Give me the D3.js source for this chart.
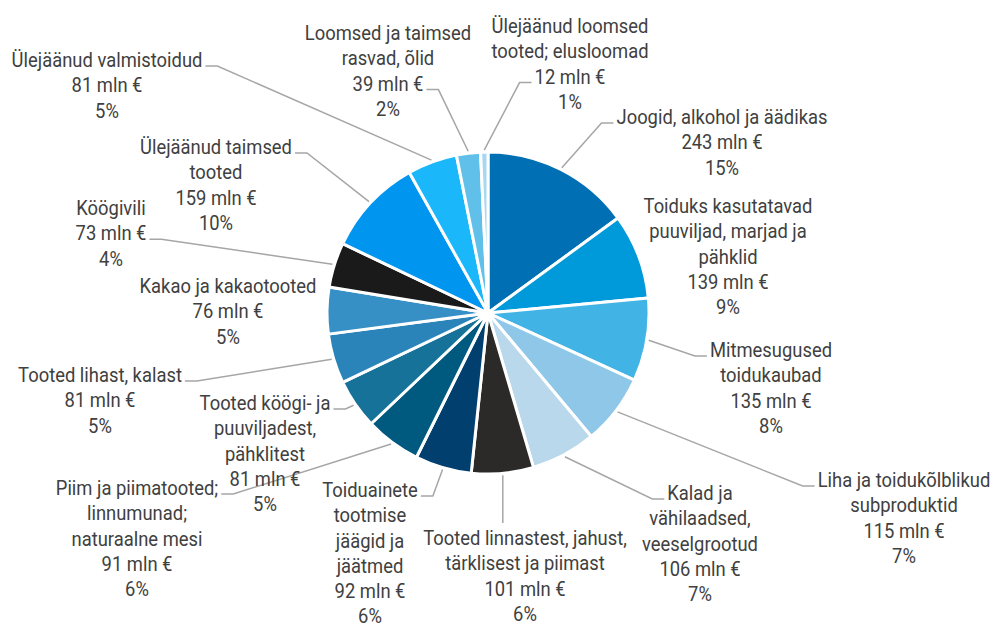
<!DOCTYPE html>
<html lang="et">
<head>
<meta charset="UTF-8">
<title>Toidukaubad</title>
<script src="https://d3js.org/d3.v7.min.js"></script>
<style>
  body { margin: 0; background: #fff; }
  text { font-family: Roboto, "Noto Sans", sans-serif; fill: #404040; }
</style>
</head>
<body>
<script>
// andmed (mln €), kellaosuti suunas alates ülevalt
var categories = [
  "Joogid, alkohol ja äädikas",
  "Toiduks kasutatavad\npuuviljad, marjad ja\npähklid",
  "Mitmesugused\ntoidukaubad",
  "Liha ja toidukõlblikud\nsubproduktid",
  "Kalad ja\nvähilaadsed,\nveeselgrootud",
  "Tooted linnastest, jahust,\ntärklisest ja piimast",
  "Toiduainete\ntootmise\njäägid ja\njäätmed",
  "Piim ja piimatooted;\nlinnumunad;\nnaturaalne mesi",
  "Tooted köögi- ja\npuuviljadest,\npähklitest",
  "Tooted lihast, kalast",
  "Kakao ja kakaotooted",
  "Köögivili",
  "Ülejäänud taimsed\ntooted",
  "Ülejäänud valmistoidud",
  "Loomsed ja taimsed\nrasvad, õlid",
  "Ülejäänud loomsed\ntooted; elusloomad"
];
var values = [243, 139, 135, 115, 106, 101, 92, 91, 81, 81, 76, 73, 159, 81, 39, 12];
var colors = ["#006fb4", "#0099d9", "#41b3e5", "#8ec7e7", "#b9d8eb", "#2b2a29",
              "#003f6e", "#005a80", "#17729a", "#2a84ba", "#3790c5", "#1a1a1a",
              "#0096f0", "#1ab8fa", "#60c0ea", "#a8d8f0"];

// sildi paigutus: keskkoht x, esimese rea y, juhtjoone rida ja pool
var labelLayout = [
  [722, 117, 0, "L"], [728, 206, -1, ""], [771, 350, 0, "L"], [904, 480, 0, "L"],
  [700, 493, 0, "L"], [525, 538, 0, "V"], [370, 490, 0, "R"], [137, 488, 0, "R"],
  [265, 403, 0, "R"], [100, 375, 0, "R"], [228, 286, -1, ""], [111, 208, 1, "R"],
  [216, 147, 0, "R"], [107, 60, 0, "R"], [388, 33, 2, "R"], [570, 26, 2, "L"]
];

var width = 995, height = 626;
var cx = 488, cy = 313, radius = 161;
var lineH = 25.3, sx = 0.92;

var total = d3.sum(values);
var svg = d3.select("body").append("svg")
  .attr("width", width).attr("height", height);

var pie = d3.pie().sort(null).value(function(d) { return d; });
var arcs = pie(values);
var arc = d3.arc().innerRadius(0).outerRadius(radius);

var g = svg.append("g").attr("transform", "translate(" + cx + "," + cy + ")");
g.selectAll("path").data(arcs).enter().append("path")
  .attr("d", arc)
  .attr("fill", function(d, i) { return colors[i]; })
  .attr("stroke", "#fff")
  .attr("stroke-width", 3)
  .attr("stroke-linejoin", "round");

// sildid
var labels = svg.append("g");
arcs.forEach(function(a, i) {
  var lay = labelLayout[i];
  var lines = categories[i].split("\n");
  lines.push(values[i] + " mln €");
  lines.push(Math.round(values[i] / total * 100) + "%");

  var lg = labels.append("g")
    .attr("transform", "translate(" + lay[0] + "," + lay[1] + ") scale(" + sx + ",1)");
  var t = lg.append("text").attr("text-anchor", "middle").attr("font-size", 20);
  var tspans = lines.map(function(l, k) {
    return t.append("tspan").attr("x", 0).attr("y", k * lineH).attr("dy", "0.35em").text(l);
  });

  if (lay[2] < 0) return;
  var mid = (a.startAngle + a.endAngle) / 2;
  var r0 = radius + 2;
  var p0 = [cx + r0 * Math.sin(mid), cy - r0 * Math.cos(mid)];
  var pts;
  if (lay[3] == "V") {
    pts = [p0, [p0[0], lay[1] - 15]];
  } else {
    var w = tspans[lay[2]].node().getComputedTextLength() * sx;
    var ay = lay[1] + lay[2] * lineH + 6;
    var ax = lay[3] == "L" ? lay[0] - w / 2 - 3 : lay[0] + w / 2 + 3;
    var ex = lay[3] == "L" ? ax - 12 : ax + 12;
    pts = [p0, [ex, ay], [ax, ay]];
  }
  svg.insert("path", "g")
    .attr("d", d3.line()(pts))
    .attr("fill", "none")
    .attr("stroke", "#a6a6a6")
    .attr("stroke-width", 1.5);
});
</script>
</body>
</html>
